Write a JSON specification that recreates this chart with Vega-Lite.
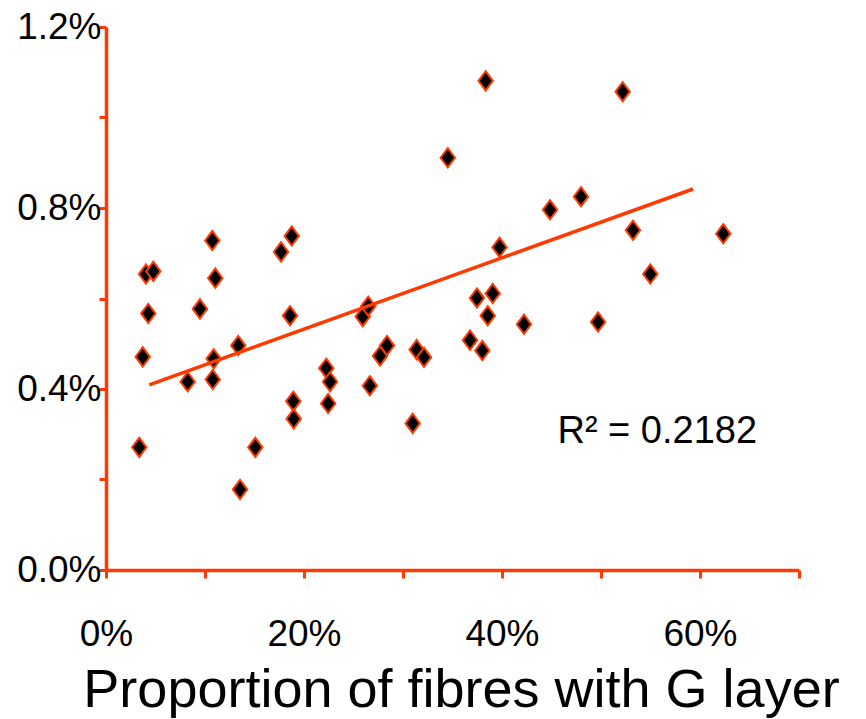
{
  "$schema": "https://vega.github.io/schema/vega-lite/v6.json",
  "width": 693,
  "height": 543,
  "autosize": {"type": "none"},
  "padding": {"left": 106, "top": 27, "right": 67, "bottom": 149},
  "background": "white",
  "config": {"view": {"stroke": null}, "font": "Liberation Sans"},
  "layer": [
    {
      "data": {"values": [
        {"fibresG": 3.36, "value": 0.271},
        {"fibresG": 3.71, "value": 0.471},
        {"fibresG": 4.27, "value": 0.567},
        {"fibresG": 4.04, "value": 0.654},
        {"fibresG": 4.78, "value": 0.660},
        {"fibresG": 8.25, "value": 0.416},
        {"fibresG": 9.49, "value": 0.577},
        {"fibresG": 10.74, "value": 0.728},
        {"fibresG": 11.04, "value": 0.645},
        {"fibresG": 10.88, "value": 0.467},
        {"fibresG": 10.78, "value": 0.421},
        {"fibresG": 13.36, "value": 0.496},
        {"fibresG": 13.54, "value": 0.178},
        {"fibresG": 15.08, "value": 0.271},
        {"fibresG": 17.68, "value": 0.703},
        {"fibresG": 18.76, "value": 0.738},
        {"fibresG": 18.59, "value": 0.562},
        {"fibresG": 18.92, "value": 0.373},
        {"fibresG": 18.96, "value": 0.334},
        {"fibresG": 22.25, "value": 0.446},
        {"fibresG": 22.63, "value": 0.416},
        {"fibresG": 22.44, "value": 0.368},
        {"fibresG": 25.93, "value": 0.560},
        {"fibresG": 26.49, "value": 0.583},
        {"fibresG": 26.65, "value": 0.407},
        {"fibresG": 27.68, "value": 0.473},
        {"fibresG": 28.38, "value": 0.496},
        {"fibresG": 30.98, "value": 0.324},
        {"fibresG": 31.38, "value": 0.487},
        {"fibresG": 32.12, "value": 0.470},
        {"fibresG": 34.52, "value": 0.911},
        {"fibresG": 36.77, "value": 0.508},
        {"fibresG": 38.01, "value": 0.485},
        {"fibresG": 37.47, "value": 0.601},
        {"fibresG": 39.06, "value": 0.611},
        {"fibresG": 38.56, "value": 0.562},
        {"fibresG": 38.35, "value": 1.081},
        {"fibresG": 39.75, "value": 0.713},
        {"fibresG": 42.22, "value": 0.543},
        {"fibresG": 44.85, "value": 0.796},
        {"fibresG": 47.98, "value": 0.825},
        {"fibresG": 49.70, "value": 0.548},
        {"fibresG": 52.19, "value": 1.057},
        {"fibresG": 53.23, "value": 0.751},
        {"fibresG": 54.98, "value": 0.654},
        {"fibresG": 62.35, "value": 0.743}
      ]},
      "mark": {"type": "point", "shape": "M-0.75,0L0,-1L0.75,0L0,1Z", "filled": true, "fill": "black", "stroke": "#ff3a00", "strokeWidth": 2, "size": 370, "opacity": 1},
      "encoding": {
        "x": {
          "field": "fibresG", "type": "quantitative",
          "scale": {"domain": [0, 70], "nice": false},
          "axis": {
            "values": [0, 10, 20, 30, 40, 50, 60, 70],
            "labelExpr": "datum.value % 20 == 0 ? datum.value + '%' : ''",
            "title": "Proportion of fibres with G layer",
            "titleFontSize": 54,
            "titleFontWeight": "normal",
            "titleColor": "black",
            "titleFont": "Liberation Sans",
            "titleX": 355,
            "titleY": 136,
            "titleAlign": "center",
            "titleBaseline": "alphabetic",
            "labelFontSize": 37,
            "labelColor": "black",
            "labelBaseline": "alphabetic",
            "labelPadding": 67,
            "labelDx": 6,
            "labelFlush": false,
            "labelOverlap": false,
            "labelBound": false,
            "tickSize": 8,
            "tickWidth": 3,
            "tickColor": "#ff3a00",
            "domainColor": "#ff3a00",
            "domainWidth": 3.5,
            "grid": false
          }
        },
        "y": {
          "field": "value", "type": "quantitative",
          "scale": {"domain": [0, 1.2], "nice": false},
          "axis": {
            "values": [0, 0.2, 0.4, 0.6, 0.8, 1.0, 1.2],
            "labelExpr": "round(datum.value * 10) % 4 == 0 ? format(datum.value, '.1f') + '%' : ''",
            "title": null,
            "labelFontSize": 37,
            "labelColor": "black",
            "labelBaseline": "middle",
            "labelPadding": -2,
            "labelFlush": false,
            "labelOverlap": false,
            "labelBound": false,
            "tickSize": 7,
            "tickWidth": 3,
            "tickColor": "#ff3a00",
            "domainColor": "#ff3a00",
            "domainWidth": 3.5,
            "grid": false
          }
        }
      }
    },
    {
      "data": {"values": [
        {"fibresG": 4.37, "value": 0.409},
        {"fibresG": 59.3, "value": 0.842}
      ]},
      "mark": {"type": "line", "color": "#ff3a00", "strokeWidth": 3.5},
      "encoding": {
        "x": {"field": "fibresG", "type": "quantitative"},
        "y": {"field": "value", "type": "quantitative"}
      }
    },
    {
      "data": {"values": [
        {"fibresG": 45.6, "value": 0.281, "label": "R² = 0.2182"}
      ]},
      "mark": {"type": "text", "align": "left", "baseline": "alphabetic", "fontSize": 38, "font": "Liberation Sans", "color": "black"},
      "encoding": {
        "x": {"field": "fibresG", "type": "quantitative"},
        "y": {"field": "value", "type": "quantitative"},
        "text": {"field": "label"}
      }
    }
  ]
}
